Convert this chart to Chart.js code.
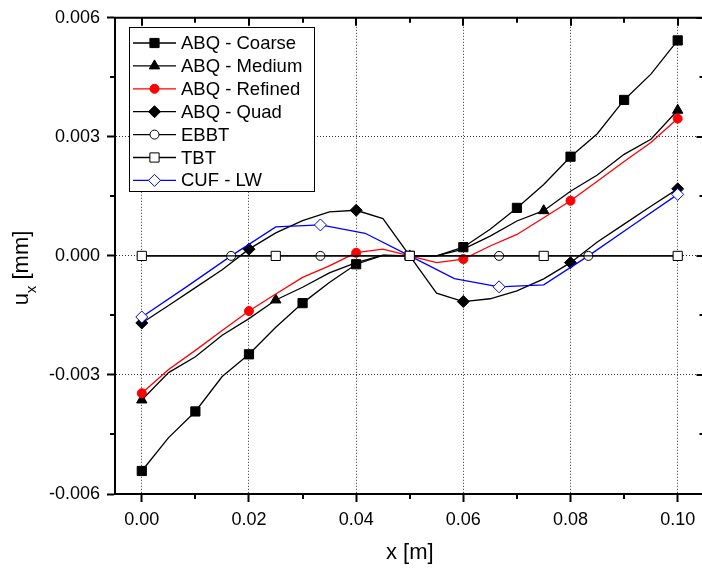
<!DOCTYPE html>
<html>
<head>
<meta charset="utf-8">
<script src="https://cdn.jsdelivr.net/npm/chart.js@4.4.0/dist/chart.umd.min.js"></script>
<style>
  html, body { margin: 0; padding: 0; background: #fff; overflow: hidden; }
</style>
</head>
<body>
<canvas id="myChart" width="712" height="575"></canvas>
<script>
// x positions of the FE meshes (m)
const xFine = [0, 0.005, 0.01, 0.015, 0.02, 0.025, 0.03, 0.035, 0.04, 0.045, 0.05,
               0.055, 0.06, 0.065, 0.07, 0.075, 0.08, 0.085, 0.09, 0.095, 0.1];

// ux (mm)
const coarseY = [-0.00542, -0.00458, -0.00392, -0.00304, -0.00248, -0.00180, -0.00119, -0.00067, -0.00021, 0.00001, 0,
                 0.00000, 0.00022, 0.00067, 0.00121, 0.00180, 0.00250, 0.00308, 0.00393, 0.00458, 0.00543];
const mediumY = [-0.00363, -0.00294, -0.00254, -0.00200, -0.00158, -0.00111, -0.00079, -0.00043, -0.00017, 0.00002, 0,
                 0.00000, 0.00017, 0.00050, 0.00088, 0.00114, 0.00163, 0.00204, 0.00256, 0.00294, 0.00367];
const refinedY = [-0.00346, -0.00286, -0.00238, -0.00188, -0.00139, -0.00096, -0.00054, -0.00025, 0.00008, 0.00017, 0,
                  -0.00017, -0.00008, 0.00025, 0.00054, 0.00096, 0.00139, 0.00188, 0.00238, 0.00286, 0.00346];
const quadY = [-0.00169, -0.00125, -0.00080, -0.00035, 0.00017, 0.00058, 0.00089, 0.00111, 0.00115, 0.00094, 0,
               -0.00094, -0.00115, -0.00108, -0.00088, -0.00058, -0.00017, 0.00035, 0.00080, 0.00125, 0.00169];

const ebbtX = [0, 0.01667, 0.03333, 0.05, 0.06667, 0.08333, 0.1];
const ebbtY = [0, 0, 0, 0, 0, 0, 0];
const tbtX = [0, 0.025, 0.05, 0.075, 0.1];
const tbtY = [0, 0, 0, 0, 0];
const cufX = [0, 0.00833, 0.01667, 0.025, 0.03333, 0.04167, 0.05, 0.05833, 0.06667, 0.075, 0.08333, 0.09167, 0.1];
const cufY = [-0.00154, -0.00078, 0, 0.00073, 0.00078, 0.00057, 0, -0.00057, -0.00078, -0.00073, 0, 0.00078, 0.00155];

// axis ticks
const xTicks = [0, 0.02, 0.04, 0.06, 0.08, 0.1];
const xMinor = [0.01, 0.03, 0.05, 0.07, 0.09];
const yTicks = [-0.006, -0.003, 0, 0.003, 0.006];
const yMinor = [-0.0045, -0.0015, 0.0015, 0.0045];

const FONT = '"Liberation Sans", Arial, sans-serif';

const pts = (xs, ys) => xs.map((x, i) => ({ x: x, y: ys[i] }));
// only every n-th vertex carries a symbol
const every = (n, r) => ctx => (ctx.dataIndex % n === 0 ? r : 0);

function series(label, xs, ys, color, fill, style, r, n, order) {
    return {
        label: label,
        data: pts(xs, ys),
        borderColor: color,
        backgroundColor: fill,
        borderWidth: 1.3,
        pointStyle: style,
        pointRadius: every(n, r),
        pointHoverRadius: every(n, r),
        pointBorderColor: color,
        pointBackgroundColor: fill,
        pointBorderWidth: 1,
        tension: 0,
        fill: false,
        order: order,
        markR: r
    };
}

const datasets = [
    series('ABQ - Coarse', xFine, coarseY, '#000000', '#000000', 'rect', 6.5, 2, 6),
    series('ABQ - Medium', xFine, mediumY, '#000000', '#000000', 'triangle', 6, 5, 5),
    series('ABQ - Refined', xFine, refinedY, '#ff0000', '#ff0000', 'circle', 4.5, 4, 3),
    series('ABQ - Quad', xFine, quadY, '#000000', '#000000', 'rectRot', 6, 4, 4),
    series('EBBT', ebbtX, ebbtY, '#000000', '#ffffff', 'circle', 4.5, 1, 1),
    series('TBT', tbtX, tbtY, '#000000', '#ffffff', 'rect', 6.5, 1, 0),
    series('CUF - LW', cufX, cufY, '#0000ff', '#ffffff', 'rectRot', 6, 4, 2)
];

function drawMarker(ctx, style, r, x, y, fill, stroke) {
    ctx.beginPath();
    if (style === 'rect') {
        const s = r * Math.SQRT1_2;
        ctx.rect(x - s, y - s, 2 * s, 2 * s);
    } else if (style === 'rectRot') {
        ctx.moveTo(x, y - r);
        ctx.lineTo(x + r, y);
        ctx.lineTo(x, y + r);
        ctx.lineTo(x - r, y);
        ctx.closePath();
    } else if (style === 'triangle') {
        ctx.moveTo(x, y - r);
        ctx.lineTo(x + 0.866 * r, y + 0.5 * r);
        ctx.lineTo(x - 0.866 * r, y + 0.5 * r);
        ctx.closePath();
    } else {
        ctx.arc(x, y, r, 0, Math.PI * 2);
    }
    ctx.fillStyle = fill;
    ctx.fill();
    ctx.lineWidth = 1;
    ctx.strokeStyle = stroke;
    ctx.stroke();
}

// frame, minor ticks, legend box and axis titles
const extras = {
    id: 'extras',
    afterDraw(chart) {
        const ctx = chart.ctx;
        const a = chart.chartArea;
        const sx = chart.scales.x, sy = chart.scales.y;
        ctx.save();

        ctx.strokeStyle = '#000';
        ctx.lineWidth = 2;
        ctx.beginPath();
        ctx.moveTo(a.left - 1, a.top);
        ctx.lineTo(a.right, a.top);
        ctx.lineTo(a.right, a.bottom);
        ctx.stroke();

        ctx.beginPath();
        xTicks.forEach(v => {
            const p = Math.round(sx.getPixelForValue(v));
            ctx.moveTo(p, a.top); ctx.lineTo(p, a.top + 8);
        });
        xMinor.forEach(v => {
            const p = Math.round(sx.getPixelForValue(v));
            ctx.moveTo(p, a.top); ctx.lineTo(p, a.top + 5);
            ctx.moveTo(p, a.bottom); ctx.lineTo(p, a.bottom + 5);
        });
        yTicks.forEach(v => {
            const p = Math.round(sy.getPixelForValue(v));
            ctx.moveTo(a.right, p); ctx.lineTo(a.right - 8, p);
        });
        yMinor.forEach(v => {
            const p = Math.round(sy.getPixelForValue(v));
            ctx.moveTo(a.left, p); ctx.lineTo(a.left - 5, p);
            ctx.moveTo(a.right, p); ctx.lineTo(a.right - 5, p);
        });
        ctx.stroke();

        // legend
        const bx = 129.5, by = 27.5, bw = 185, bh = 164;
        ctx.fillStyle = '#fff';
        ctx.fillRect(bx, by, bw, bh);
        ctx.lineWidth = 1;
        ctx.strokeStyle = '#000';
        ctx.strokeRect(bx, by, bw, bh);
        ctx.font = '18.5px ' + FONT;
        ctx.textBaseline = 'middle';
        ctx.textAlign = 'left';
        chart.data.datasets.forEach((ds, i) => {
            const y = 43 + i * 22.9;
            ctx.beginPath();
            ctx.moveTo(133, y); ctx.lineTo(176, y);
            ctx.lineWidth = 1.3;
            ctx.strokeStyle = ds.borderColor;
            ctx.stroke();
            drawMarker(ctx, ds.pointStyle, ds.markR, 154.5, y, ds.pointBackgroundColor, ds.pointBorderColor);
            ctx.fillStyle = '#000';
            ctx.fillText(ds.label, 181, y + 1);
        });

        // axis titles
        ctx.fillStyle = '#000';
        ctx.textBaseline = 'alphabetic';
        ctx.textAlign = 'center';
        ctx.font = '22px ' + FONT;
        ctx.fillText('x [m]', (a.left + a.right) / 2, 559);

        ctx.translate(28, 268);
        ctx.rotate(-Math.PI / 2);
        ctx.textAlign = 'left';
        ctx.font = '22px ' + FONT;
        const wu = ctx.measureText('u').width;
        const wr = ctx.measureText(' [mm]').width;
        ctx.font = '15px ' + FONT;
        const wx = ctx.measureText('x').width;
        let tx = -(wu + wx + wr) / 2;
        ctx.font = '22px ' + FONT;
        ctx.fillText('u', tx, 0);
        tx += wu;
        ctx.font = '15px ' + FONT;
        ctx.fillText('x', tx, 8);
        tx += wx;
        ctx.font = '22px ' + FONT;
        ctx.fillText(' [mm]', tx, 0);

        ctx.restore();
    }
};

const gridDots = 'rgba(0,0,0,0.8)';

new Chart(document.getElementById('myChart'), {
    type: 'line',
    data: { datasets: datasets },
    options: {
        responsive: false,
        animation: false,
        devicePixelRatio: 1,
        layout: { padding: { top: 15, right: 6, left: 0, bottom: 0 } },
        plugins: {
            legend: { display: false },
            tooltip: { enabled: false }
        },
        scales: {
            x: {
                type: 'linear',
                min: -0.005,
                max: 0.105,
                afterBuildTicks: s => { s.ticks = xTicks.map(v => ({ value: v })); },
                afterFit: s => { s.height = 81; },
                grid: {
                    color: gridDots,
                    lineWidth: 1,
                    tickLength: 8,
                    tickWidth: 2,
                    tickColor: '#000'
                },
                border: { display: true, color: '#000', width: 2, dash: [1, 2] },
                ticks: {
                    color: '#000',
                    padding: 7,
                    maxRotation: 0,
                    autoSkip: false,
                    font: { family: FONT, size: 18 },
                    callback: v => v.toFixed(2)
                }
            },
            y: {
                type: 'linear',
                min: -0.006,
                max: 0.006,
                afterBuildTicks: s => { s.ticks = yTicks.map(v => ({ value: v })); },
                afterFit: s => { s.width = 115; },
                grid: {
                    color: c => (Math.abs(c.tick.value) > 0.0059 ? 'rgba(0,0,0,0)' : gridDots),
                    lineWidth: 1,
                    tickLength: 8,
                    tickWidth: 2,
                    tickColor: '#000'
                },
                border: { display: true, color: '#000', width: 2, dash: [1, 2] },
                ticks: {
                    color: '#000',
                    padding: 7,
                    autoSkip: false,
                    font: { family: FONT, size: 18 },
                    callback: v => v.toFixed(3)
                }
            }
        }
    },
    plugins: [extras]
});
</script>
</body>
</html>
